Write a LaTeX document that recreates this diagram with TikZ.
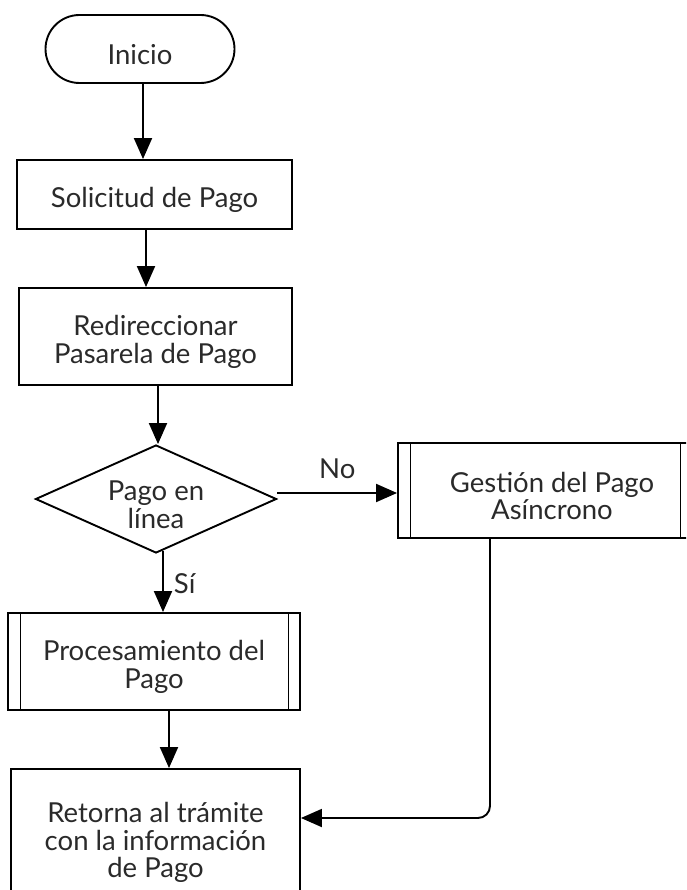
\documentclass[tikz,border=0pt]{standalone}
\usepackage{fontspec}
\setmainfont{Lato}
\usetikzlibrary{shapes.geometric,arrows.meta}
\definecolor{ink}{HTML}{2A2A2A}
% taller first line so the text sits slightly low in each box
\newcommand\firstline{\rule{0pt}{31pt}}
\tikzset{
  base/.style={draw=black, line width=1.9pt, text=ink, align=center, inner sep=0pt,
    font=\fontsize{27.5}{27.5}\selectfont},
  terminal/.style={base, rectangle, rounded corners=34pt},
  procbox/.style={base, rectangle},
  subproc/.style={base, rectangle,
    path picture={
      \draw[line width=1.9pt]
        ([xshift=12.5pt]path picture bounding box.north west) --
        ([xshift=12.5pt]path picture bounding box.south west);
      \draw[line width=1.9pt]
        ([xshift=-11.5pt]path picture bounding box.north east) --
        ([xshift=-11.5pt]path picture bounding box.south east);
    }},
  decision/.style={base, diamond, aspect=2.2},
  arr/.style={draw=black, line width=1.9pt, -{Triangle[length=21pt,width=18pt]}},
  lbl/.style={text=ink, font=\fontsize{27.5}{27.5}\selectfont, inner sep=0pt}
}
\begin{document}
\begin{tikzpicture}[x=1pt,y=-1pt]
  \useasboundingbox (0,0) rectangle (686,890);
  \clip (0,0) rectangle (686,890);

  % shapes
  \node[terminal, minimum width=189pt, minimum height=68pt] (inicio) at (140,49)
    {\firstline Inicio};
  \node[procbox, minimum width=275pt, minimum height=69pt] (sol) at (154.5,194.5)
    {\firstline Solicitud de Pago};
  \node[procbox, minimum width=273pt, minimum height=97pt] (red) at (155.5,336.5)
    {\firstline Redireccionar\\Pasarela de Pago};
  \node[decision, minimum width=241pt, minimum height=108pt] (dec) at (156,499)
    {\firstline Pago en\\línea};
  \node[subproc, minimum width=292pt, minimum height=97pt] (proc) at (154,661.5)
    {\firstline Procesamiento del\\Pago};
  \node[subproc, minimum width=294pt, minimum height=95pt] (gest) at (545,490.5)
    {\hspace*{14pt}\firstline Gestión del Pago\\\hspace*{14pt}Asíncrono};
  \node[procbox, minimum width=289pt, minimum height=136pt] (ret) at (155.5,837)
    {\firstline Retorna al trámite\\con la información\\de Pago};

  % connectors
  \draw[arr] ([xshift=3pt]inicio.south) -- ([xshift=-11.5pt]sol.north);
  \draw[arr] ([xshift=-8.5pt]sol.south) -- ([xshift=-9.5pt]red.north);
  \draw[arr] ([xshift=2.5pt]red.south) -- ([xshift=2pt]dec.north);
  \draw[arr] ([xshift=7pt,yshift=3pt]dec.south) -- ([xshift=9pt]proc.north)
    node[lbl, midway, right, xshift=10pt, yshift=-2pt] {Sí};
  \draw[arr] ([xshift=15pt]proc.south) -- ([xshift=13.5pt]ret.north);
  \draw[arr] ([yshift=6pt]dec.east) coordinate (noStart) -- (noStart -| gest.west)
    node[lbl, midway, above, yshift=13pt] {No};
  \draw[arr, rounded corners=12pt] ([xshift=-55pt]gest.south) |- ([yshift=19pt]ret.east);
\end{tikzpicture}
\end{document}
